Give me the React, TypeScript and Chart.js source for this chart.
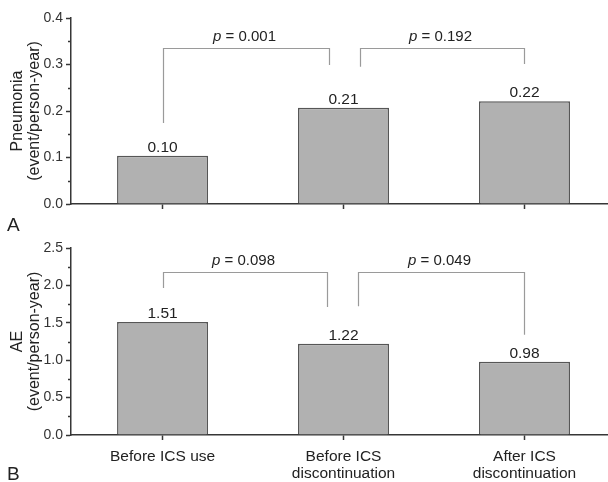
import React, { useEffect, useRef } from "react";
import { Chart, registerables } from "chart.js";

Chart.register(...registerables);

const categories: string[][] = [["Before ICS use"], ["Before ICS", "discontinuation"], ["After ICS", "discontinuation"]];
const categoryIndex = [0, 1, 2];

const pneumoniaValues = [0.104, 0.207, 0.221];
const pneumoniaLabels = ["0.10", "0.21", "0.22"];
const pneumoniaTitle = ["Pneumonia", "(event/person-year)"];
const pneumoniaMax = 0.4;
const pneumoniaStep = 0.1;

const aeValues = [1.51, 1.22, 0.98];
const aeLabels = ["1.51", "1.22", "0.98"];
const aeTitle = ["AE", "(event/person-year)"];
const aeMax = 2.5;
const aeStep = 0.5;

// comparisons: [fromIndex, toIndex, bracketTop, leftEnd, rightEnd] in data units, plus p-values
const pneumoniaBrackets = [
  [0, 0.92, 0.335, 0.174, 0.299],
  [1.09, 2, 0.335, 0.295, 0.301],
];
const pneumoniaP = ["0.001", "0.192"];

const aeBrackets = [
  [0, 0.91, 2.18, 1.965, 1.71],
  [1.08, 2, 2.18, 1.72, 1.34],
];
const aeP = ["0.098", "0.049"];

const FONT = '"Liberation Sans", Arial, Helvetica, sans-serif';
const AXIS = "#363636";
const TEXT = "#222222";

function makePlugin(labels: string[], brackets: number[][], pvals: string[], letter: string, letterBaseline: number) {
  return {
    id: "annot" + letter,
    afterDraw(chart: any) {
      const ctx = chart.ctx as CanvasRenderingContext2D;
      const xs = chart.scales.x;
      const ys = chart.scales.y;
      ctx.save();
      // minor ticks
      ctx.strokeStyle = AXIS;
      ctx.lineWidth = 1.5;
      const t = ys.ticks;
      for (let i = 0; i < t.length - 1; i++) {
        const v = (t[i].value + t[i + 1].value) / 2;
        const py = Math.round(ys.getPixelForValue(v)) + 0.5;
        ctx.beginPath();
        ctx.moveTo(ys.right - 3, py);
        ctx.lineTo(ys.right, py);
        ctx.stroke();
      }
      // value labels
      ctx.font = "15.5px " + FONT;
      ctx.fillStyle = TEXT;
      ctx.textAlign = "center";
      ctx.textBaseline = "alphabetic";
      const meta = chart.getDatasetMeta(0);
      meta.data.forEach((bar: any, i: number) => {
        ctx.fillText(labels[i], bar.x, bar.y - 4);
      });
      // brackets
      ctx.strokeStyle = "#9a9a9a";
      ctx.lineWidth = 1.2;
      brackets.forEach((b, i) => {
        const x1 = Math.round(xs.getPixelForValue(b[0])) + 0.5;
        const x2 = Math.round(xs.getPixelForValue(b[1])) + 0.5;
        const yt = Math.round(ys.getPixelForValue(b[2])) + 0.5;
        const y1 = ys.getPixelForValue(b[3]);
        const y2 = ys.getPixelForValue(b[4]);
        ctx.beginPath();
        ctx.moveTo(x1, y1);
        ctx.lineTo(x1, yt);
        ctx.lineTo(x2, yt);
        ctx.lineTo(x2, y2);
        ctx.stroke();
        // p text
        const cx = (x1 + x2) / 2;
        const italic = "italic 15px " + FONT;
        const normal = "15px " + FONT;
        ctx.font = italic;
        const wp = ctx.measureText("p").width;
        ctx.font = normal;
        const rest = " = " + pvals[i];
        const wr = ctx.measureText(rest).width;
        const start = cx - (wp + wr) / 2 - 2;
        ctx.textAlign = "left";
        ctx.font = italic;
        ctx.fillText("p", start, yt - 8);
        ctx.font = normal;
        ctx.fillText(rest, start + wp, yt - 8);
      });
      // panel letter
      ctx.font = "19px " + FONT;
      ctx.textAlign = "left";
      ctx.fillStyle = TEXT;
      ctx.fillText(letter, 7, letterBaseline);
      ctx.restore();
    },
  };
}

function makeConfig(
  values: number[],
  labels: string[],
  title: string[],
  yMax: number,
  yStep: number,
  showX: boolean,
  padTop: number,
  xHeight: number,
  brackets: number[][],
  pvals: string[],
  letter: string,
  letterBaseline: number
): any {
  return {
    type: "bar",
    data: {
      datasets: [
        {
          data: values.map((v, i) => ({ x: categoryIndex[i], y: v })),
          backgroundColor: "#b1b1b1",
          borderColor: "#565656",
          borderWidth: 1.5,
          barPercentage: 0.503,
          categoryPercentage: 1,
        },
      ],
    },
    options: {
      responsive: false,
      animation: false,
      devicePixelRatio: 1,
      layout: { padding: { top: padTop, right: 1, left: 0, bottom: 0 } },
      plugins: { legend: { display: false }, tooltip: { enabled: false } },
      scales: {
        x: {
          type: "linear",
          bounds: "data",
          offset: false,
          min: -0.506,
          max: 2.456,
          afterBuildTicks: (s: any) => {
            s.ticks = categoryIndex.map((v) => ({ value: v }));
          },
          afterFit: (s: any) => {
            s.height = xHeight;
          },
          ticks: {
            autoSkip: false,
            maxRotation: 0,
            padding: 8,
            color: TEXT,
            font: { size: 15.5, family: FONT, lineHeight: 1.1 },
            callback: (v: number) => (showX ? categories[v] : ""),
          },
          grid: {
            display: true,
            offset: false,
            drawOnChartArea: false,
            drawTicks: true,
            tickLength: 5,
            tickColor: AXIS,
            tickWidth: 1.5,
          },
          border: { display: true, color: AXIS, width: 1.5 },
        },
        y: {
          type: "linear",
          min: 0,
          max: yMax,
          afterFit: (s: any) => {
            s.width = 71;
          },
          ticks: {
            stepSize: yStep,
            padding: 3,
            color: "#333333",
            font: { size: 14, family: FONT },
            callback: (v: number) => v.toFixed(1),
          },
          grid: {
            display: true,
            drawOnChartArea: false,
            drawTicks: true,
            tickLength: 5,
            tickColor: AXIS,
            tickWidth: 1.5,
          },
          border: { display: true, color: AXIS, width: 1.5 },
          title: {
            display: true,
            text: title,
            color: TEXT,
            font: { size: 16, family: FONT, lineHeight: 1.06 },
            padding: { top: 9, bottom: 0 },
          },
        },
      },
    },
    plugins: [makePlugin(labels, brackets, pvals, letter, letterBaseline)],
  };
}

export default function App() {
  const topRef = useRef<HTMLCanvasElement>(null);
  const botRef = useRef<HTMLCanvasElement>(null);

  useEffect(() => {
    document.body.style.margin = "0";
    const c1 = new Chart(
      topRef.current!,
      makeConfig(pneumoniaValues, pneumoniaLabels, pneumoniaTitle, pneumoniaMax, pneumoniaStep, false, 18, 28, pneumoniaBrackets, pneumoniaP, "A", 231)
    );
    const c2 = new Chart(
      botRef.current!,
      makeConfig(aeValues, aeLabels, aeTitle, aeMax, aeStep, true, 16, 47, aeBrackets, aeP, "B", 248)
    );
    return () => {
      c1.destroy();
      c2.destroy();
    };
  }, []);

  return (
    <div style={{ position: "absolute", left: 0, top: 0, width: 608, height: 482, background: "#fff" }}>
      <canvas ref={topRef} width={608} height={232} style={{ position: "absolute", left: 0, top: 0, width: 608, height: 232 }} />
      <canvas ref={botRef} width={608} height={250} style={{ position: "absolute", left: 0, top: 232, width: 608, height: 250 }} />
    </div>
  );
}
